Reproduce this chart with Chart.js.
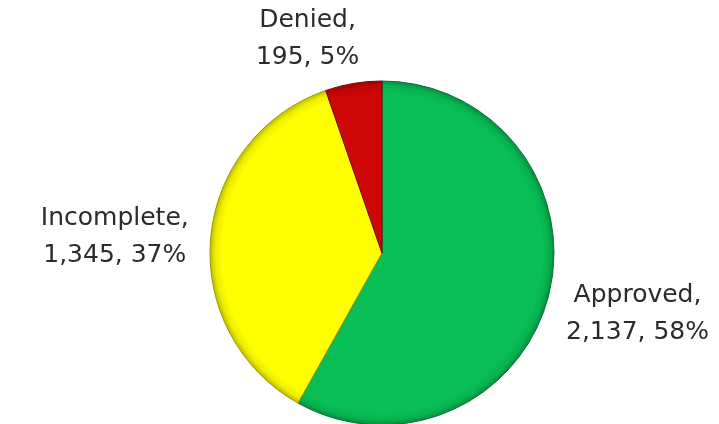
<!DOCTYPE html>
<html>
<head>
<meta charset="utf-8">
<script src="https://cdn.jsdelivr.net/npm/chart.js@4.4.1/dist/chart.umd.min.js"></script>
<style>
  html, body { margin: 0; padding: 0; background: #fff; }
  #wrap { width: 719px; height: 424px; }
</style>
</head>
<body>
<div id="wrap"><canvas id="myChart" width="719" height="424"></canvas></div>
<script>
let categories = ["Approved", "Incomplete", "Denied"];
let counts = [2137, 1345, 195];
let percents = [58, 37, 5];
let baseColors = [
  [8, 190, 85],
  [255, 255, 0],
  [206, 6, 6],
];
let pieRadius = 172;

function rgb(c, k) {
  return `rgb(${Math.round(c[0] * k)}, ${Math.round(c[1] * k)}, ${Math.round(c[2] * k)})`;
}

// bevelled fill: flat face, darker rim near the outer edge
function sliceFill(context) {
  let chart = context.chart;
  let area = chart.chartArea;
  let c = baseColors[context.dataIndex];
  if (!area) return rgb(c, 1);
  let cx = (area.left + area.right) / 2;
  let cy = (area.top + area.bottom) / 2;
  let g = chart.ctx.createRadialGradient(cx, cy, 0, cx, cy, pieRadius);
  g.addColorStop(0, rgb(c, 1));
  g.addColorStop(0.93, rgb(c, 1));
  g.addColorStop(0.97, rgb(c, 0.93));
  g.addColorStop(1, rgb(c, 0.74));
  return g;
}

// two-line labels outside each slice, lines centred inside their block
let pieLabels = {
  id: "pieLabels",
  afterDatasetsDraw(chart) {
    let ctx = chart.ctx;
    let meta = chart.getDatasetMeta(0);
    ctx.save();
    ctx.font = "25px 'DejaVu Sans', sans-serif";
    ctx.fillStyle = "#2b2b2b";
    ctx.textAlign = "center";
    ctx.textBaseline = "middle";
    meta.data.forEach((arc, i) => {
      let mid = (arc.startAngle + arc.endAngle) / 2;
      let r = arc.outerRadius + 14;
      let x = arc.x + Math.cos(mid) * r;
      let y = arc.y + Math.sin(mid) * r;
      let lines = [
        categories[i] + ",",
        counts[i].toLocaleString("en-US") + ", " + percents[i] + "%",
      ];
      let lh = 37;
      let w = Math.max(...lines.map((t) => ctx.measureText(t).width));
      let right = Math.cos(mid) >= 0;
      let nearPole = Math.abs(Math.sin(mid)) > 0.8;
      let cxText;
      if (nearPole) cxText = x + 8 - w / 2;
      else cxText = right ? x + 4 + w / 2 : x - 8 - w / 2;
      let top;
      if (Math.sin(mid) < -0.8) top = y - lh * lines.length + 6;
      else if (Math.sin(mid) > 0.8) top = y;
      else top = y - (lh * lines.length) / 2 + (Math.sin(mid) > 0 ? 14 : 0);
      lines.forEach((t, j) => {
        ctx.fillText(t, cxText, top + lh * j + lh / 2);
      });
    });
    ctx.restore();
  },
};

let chart = new Chart(document.getElementById("myChart"), {
  type: "pie",
  data: {
    labels: categories,
    datasets: [
      {
        data: counts,
        backgroundColor: sliceFill,
        borderColor: baseColors.map((c) => rgb(c, 0.6)),
        borderWidth: 1,
      },
    ],
  },
  options: {
    responsive: false,
    animation: false,
    radius: pieRadius,
    layout: { padding: { top: 82, left: 45, right: 0, bottom: 0 } },
    plugins: {
      legend: { display: false },
      tooltip: { enabled: false },
    },
  },
  plugins: [pieLabels],
});
</script>
</body>
</html>
